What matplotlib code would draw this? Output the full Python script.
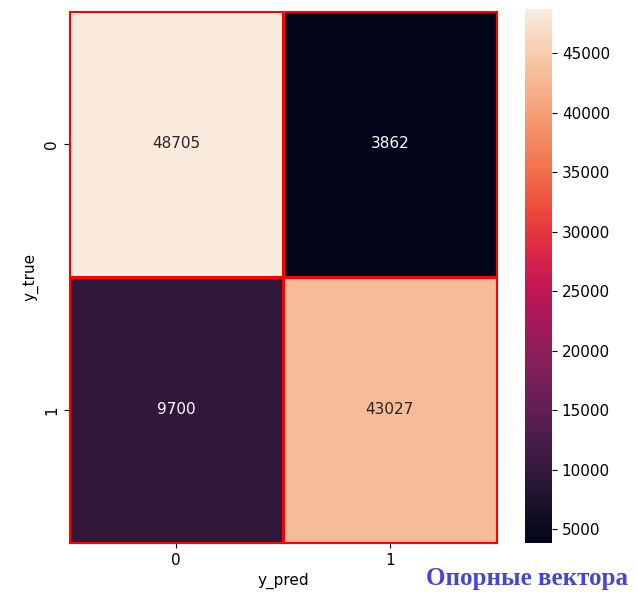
import matplotlib
matplotlib.use("Agg")
import matplotlib.pyplot as plt
import seaborn as sns
import numpy as np

# confusion matrix of the SVM classifier
labels = [0, 1]
conf_matrix = np.array([[48705, 3862],
                        [9700, 43027]])

fig = plt.figure(figsize=(6.36, 6.06), dpi=100)
ax = fig.add_axes([0.1085, 0.104, 0.6725, 0.878])
cax = fig.add_axes([0.826, 0.104, 0.042, 0.881])

sns.heatmap(conf_matrix, annot=True, fmt="d", cmap="rocket",
            linewidths=0.8, linecolor="red",
            xticklabels=labels, yticklabels=labels,
            annot_kws={"fontsize": 11},
            ax=ax, cbar_ax=cax)

ax.set_xlabel("y_pred", fontsize=11)
ax.set_ylabel("y_true", fontsize=11)
ax.tick_params(labelsize=11)
cax.tick_params(labelsize=11)
for side in ax.spines.values():
    side.set_visible(True)
    side.set_edgecolor("red")
    side.set_linewidth(0.8)
    side.set_zorder(5)

fig.text(0.988, 0.046, "Опорные вектора", ha="right", va="center",
         fontsize=18, fontweight="bold", family="Liberation Serif",
         color="#4646d2")

fig.savefig("out.png", dpi=100)
